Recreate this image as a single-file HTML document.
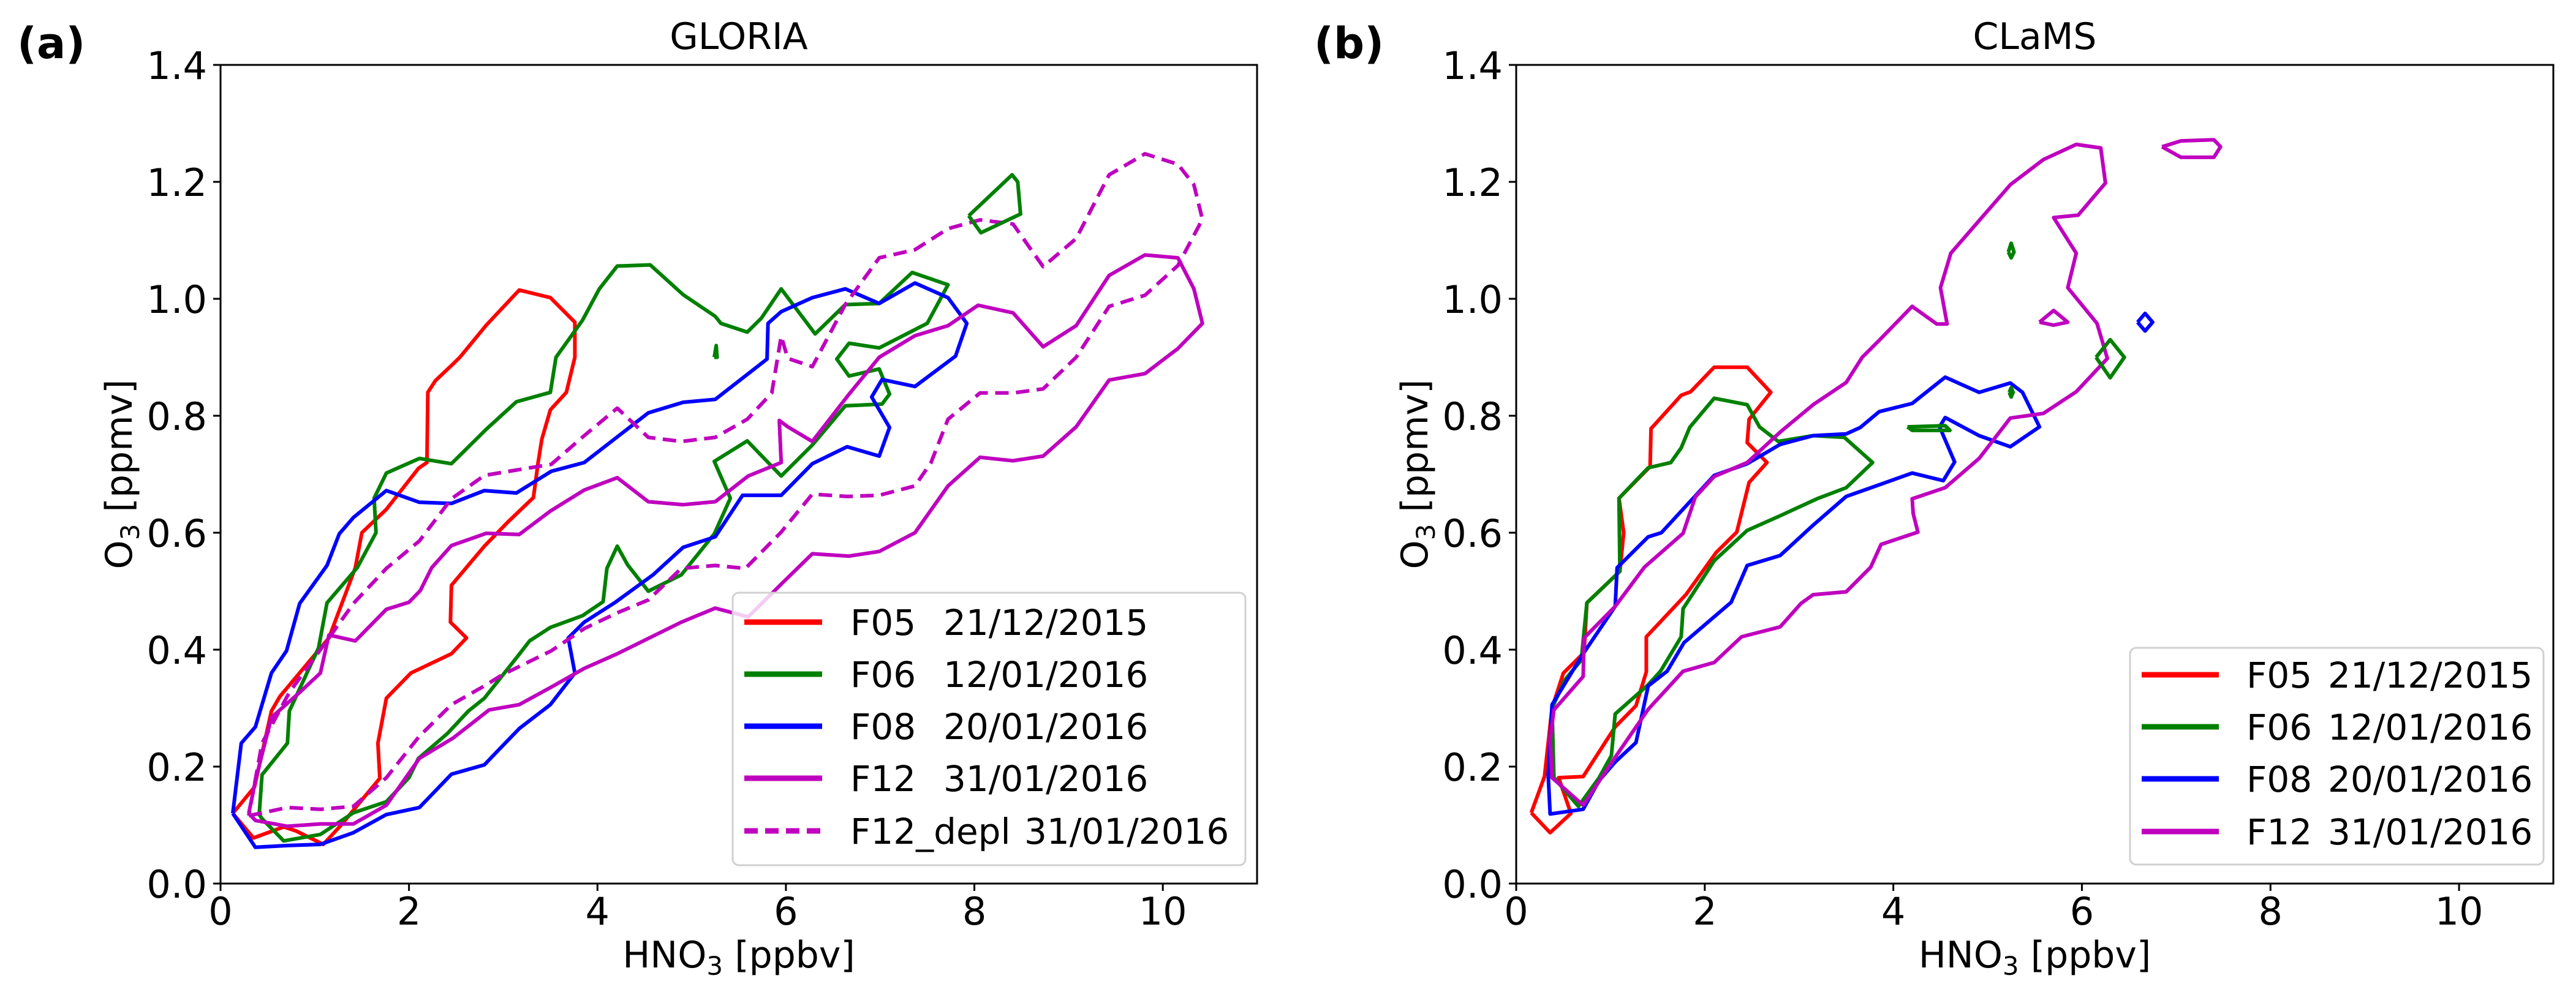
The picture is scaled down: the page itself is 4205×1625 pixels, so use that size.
<!DOCTYPE html>
<html><head><meta charset="utf-8"><style>
html,body{margin:0;padding:0;background:#fff;}
svg{display:block;font-family:"DejaVu Sans","Liberation Sans",sans-serif;}
</style></head><body>
<svg id="fig" width="4205" height="1625" viewBox="0 0 4205 1625" xmlns="http://www.w3.org/2000/svg"></svg>
<script>
// ---- data (HNO3 ppbv, O3 ppmv) ----
const xTicks=[0,2,4,6,8,10];
const yTicks=[0.0,0.2,0.4,0.6,0.8,1.0,1.2,1.4];
const yTickLabels=["0.0","0.2","0.4","0.6","0.8","1.0","1.2","1.4"];

const gF05=[[0.13,0.12],[0.36,0.165],[0.54,0.295],[0.63,0.32],[1.15,0.42],[1.43,0.54],[1.5,0.6],[1.76,0.64],[2.1,0.71],[2.19,0.72],[2.2,0.84],[2.28,0.86],[2.45,0.886],[2.54,0.9],[2.82,0.955],[3.17,1.015],[3.5,1.002],[3.76,0.96],[3.76,0.9],[3.67,0.84],[3.5,0.81],[3.41,0.76],[3.37,0.72],[3.32,0.66],[3.06,0.62],[2.8,0.577],[2.45,0.51],[2.44,0.447],[2.61,0.42],[2.45,0.393],[2.02,0.36],[1.76,0.317],[1.67,0.24],[1.69,0.18],[1.5,0.143],[1.28,0.1],[1.09,0.067],[0.8,0.09],[0.67,0.097],[0.35,0.078],[0.13,0.12]];
const gF06=[[0.41,0.118],[0.44,0.186],[0.71,0.24],[0.73,0.295],[1.04,0.403],[1.13,0.48],[1.45,0.54],[1.65,0.6],[1.63,0.659],[1.76,0.702],[2.11,0.727],[2.45,0.718],[2.82,0.777],[3.14,0.824],[3.5,0.84],[3.56,0.9],[3.84,0.963],[4.02,1.017],[4.21,1.056],[4.56,1.058],[4.91,1.007],[5.25,0.97],[5.31,0.958],[5.59,0.943],[5.74,0.967],[5.95,1.017],[6.31,0.94],[6.63,0.99],[6.99,0.992],[7.34,1.045],[7.72,1.024],[7.5,0.958],[6.99,0.916],[6.67,0.924],[6.54,0.897],[6.67,0.868],[6.99,0.88],[7.1,0.837],[7.02,0.82],[6.63,0.817],[6.28,0.75],[5.95,0.697],[5.59,0.757],[5.24,0.722],[5.41,0.659],[5.24,0.598],[4.89,0.528],[4.54,0.5],[4.32,0.545],[4.21,0.577],[4.1,0.539],[4.06,0.482],[3.84,0.458],[3.5,0.438],[3.28,0.415],[3.15,0.388],[2.8,0.317],[2.63,0.295],[2.41,0.257],[2.1,0.214],[2.0,0.181],[1.76,0.14],[1.41,0.121],[1.06,0.084],[0.67,0.073],[0.44,0.111],[0.41,0.118]];
const gF06b=[[7.94,1.142],[8.07,1.113],[8.49,1.145],[8.46,1.2],[8.4,1.212],[7.94,1.142]];
const gF06c=[[5.24,0.9],[5.26,0.92],[5.27,0.9],[5.24,0.9]];
const gF08=[[0.13,0.12],[0.22,0.24],[0.37,0.268],[0.54,0.36],[0.7,0.398],[0.84,0.479],[1.13,0.544],[1.26,0.598],[1.41,0.626],[1.76,0.672],[2.11,0.652],[2.45,0.65],[2.8,0.672],[3.14,0.668],[3.51,0.705],[3.86,0.72],[4.54,0.805],[4.91,0.823],[5.25,0.828],[5.8,0.897],[5.81,0.958],[5.95,0.978],[6.28,1.002],[6.63,1.017],[6.99,0.992],[7.37,1.027],[7.72,1.002],[7.92,0.958],[7.8,0.902],[7.37,0.85],[7.02,0.862],[6.91,0.832],[7.1,0.78],[6.99,0.731],[6.65,0.747],[6.28,0.718],[5.95,0.664],[5.54,0.664],[5.25,0.593],[4.91,0.575],[4.59,0.528],[4.19,0.481],[3.86,0.447],[3.69,0.42],[3.76,0.36],[3.5,0.306],[3.17,0.265],[2.99,0.235],[2.8,0.203],[2.45,0.187],[2.11,0.13],[1.76,0.118],[1.41,0.087],[1.06,0.067],[0.71,0.065],[0.37,0.062],[0.13,0.12]];
const gF12=[[0.3,0.12],[0.37,0.176],[0.54,0.284],[0.84,0.327],[1.06,0.36],[1.15,0.425],[1.43,0.415],[1.76,0.469],[2.0,0.481],[2.12,0.501],[2.24,0.54],[2.45,0.578],[2.82,0.599],[3.17,0.597],[3.5,0.637],[3.86,0.673],[4.21,0.694],[4.54,0.653],[4.91,0.648],[5.25,0.653],[5.6,0.697],[5.95,0.72],[5.93,0.792],[6.02,0.781],[6.28,0.756],[6.67,0.837],[6.99,0.9],[7.37,0.937],[7.72,0.954],[8.04,0.989],[8.41,0.976],[8.73,0.918],[9.08,0.954],[9.43,1.04],[9.81,1.075],[10.16,1.07],[10.33,1.017],[10.42,0.958],[10.16,0.915],[9.81,0.872],[9.43,0.861],[9.08,0.781],[8.73,0.731],[8.41,0.723],[8.06,0.729],[7.72,0.68],[7.37,0.6],[6.99,0.568],[6.67,0.56],[6.28,0.564],[5.95,0.512],[5.6,0.456],[5.25,0.471],[4.89,0.447],[4.21,0.393],[3.86,0.368],[3.51,0.336],[3.17,0.306],[2.85,0.297],[2.47,0.249],[2.11,0.214],[1.76,0.134],[1.41,0.102],[1.06,0.102],[0.71,0.098],[0.37,0.108],[0.3,0.12]];
const gF12d=[[0.3,0.116],[0.71,0.13],[1.06,0.127],[1.41,0.132],[1.76,0.181],[2.11,0.252],[2.45,0.306],[2.8,0.338],[2.99,0.357],[3.51,0.398],[3.86,0.436],[4.21,0.463],[4.54,0.485],[4.89,0.539],[5.25,0.544],[5.57,0.539],[5.95,0.601],[6.28,0.666],[6.65,0.662],[6.99,0.664],[7.37,0.68],[7.54,0.72],[7.72,0.794],[8.06,0.839],[8.41,0.839],[8.73,0.846],[9.08,0.9],[9.43,0.987],[9.81,1.006],[10.16,1.057],[10.42,1.136],[10.33,1.195],[10.16,1.23],[9.81,1.248],[9.43,1.212],[9.08,1.103],[8.73,1.055],[8.41,1.128],[8.06,1.135],[7.72,1.12],[7.37,1.084],[6.99,1.07],[6.63,0.99],[6.28,0.884],[6.02,0.898],[5.95,0.936],[5.85,0.839],[5.59,0.794],[5.25,0.763],[4.89,0.756],[4.54,0.763],[4.21,0.813],[3.86,0.766],[3.51,0.717],[3.17,0.708],[2.8,0.698],[2.45,0.658],[2.11,0.586],[1.76,0.539],[1.41,0.479],[1.15,0.42],[0.73,0.327],[0.44,0.24],[0.3,0.116]];

const cF05=[[0.16,0.121],[0.3,0.183],[0.38,0.3],[0.5,0.36],[0.72,0.395],[0.75,0.48],[1.1,0.534],[1.14,0.6],[1.09,0.659],[1.42,0.713],[1.43,0.778],[1.75,0.835],[1.85,0.841],[2.1,0.883],[2.45,0.883],[2.7,0.84],[2.47,0.794],[2.45,0.754],[2.66,0.72],[2.47,0.686],[2.34,0.601],[2.12,0.566],[1.8,0.494],[1.38,0.422],[1.38,0.362],[1.27,0.304],[1.05,0.268],[0.71,0.183],[0.45,0.181],[0.58,0.12],[0.36,0.087],[0.16,0.121]];
const cF06=[[0.38,0.3],[0.52,0.349],[0.69,0.382],[0.75,0.48],[1.1,0.534],[1.09,0.659],[1.4,0.711],[1.64,0.72],[1.75,0.745],[1.84,0.78],[2.1,0.83],[2.45,0.819],[2.58,0.781],[2.78,0.756],[3.15,0.766],[3.48,0.763],[3.78,0.72],[3.5,0.677],[3.19,0.658],[2.8,0.629],[2.45,0.604],[2.1,0.552],[1.77,0.47],[1.75,0.422],[1.53,0.363],[1.4,0.34],[1.05,0.29],[1.01,0.219],[0.88,0.181],[0.66,0.132],[0.4,0.181],[0.38,0.3]];
const cF06b=[[4.15,0.781],[4.55,0.783],[4.6,0.775],[4.2,0.775],[4.15,0.781]];
const cF06c=[[6.15,0.9],[6.3,0.93],[6.45,0.9],[6.3,0.865],[6.15,0.9]];
const cF06d=[[5.22,1.08],[5.25,1.095],[5.28,1.08],[5.25,1.07],[5.22,1.08]];
const cF06e=[[5.23,0.84],[5.25,0.848],[5.27,0.84],[5.25,0.832],[5.23,0.84]];
const cF08=[[0.34,0.184],[0.38,0.306],[0.71,0.393],[1.05,0.474],[1.07,0.54],[1.4,0.593],[1.54,0.6],[2.1,0.698],[2.45,0.718],[2.8,0.751],[3.15,0.766],[3.5,0.769],[3.65,0.78],[3.85,0.807],[4.2,0.821],[4.55,0.866],[4.91,0.84],[5.24,0.856],[5.37,0.84],[5.55,0.781],[5.24,0.747],[4.91,0.766],[4.55,0.797],[4.49,0.781],[4.65,0.721],[4.53,0.689],[4.2,0.702],[3.87,0.683],[3.5,0.662],[3.15,0.613],[2.8,0.561],[2.45,0.544],[2.28,0.481],[1.78,0.412],[1.6,0.363],[1.4,0.338],[1.27,0.241],[1.05,0.208],[0.88,0.176],[0.71,0.127],[0.36,0.119],[0.34,0.184]];
const cF08b=[[6.59,0.96],[6.67,0.975],[6.75,0.96],[6.67,0.945],[6.59,0.96]];
const cF12=[[0.36,0.246],[0.4,0.297],[0.71,0.354],[0.72,0.42],[1.05,0.474],[1.36,0.541],[1.77,0.599],[1.9,0.661],[2.1,0.696],[2.45,0.72],[2.8,0.772],[3.15,0.819],[3.5,0.857],[3.67,0.9],[3.85,0.929],[4.2,0.987],[4.46,0.957],[4.57,0.957],[4.5,1.019],[4.61,1.078],[4.96,1.143],[5.24,1.195],[5.59,1.238],[5.94,1.264],[6.2,1.258],[6.25,1.198],[5.96,1.143],[5.7,1.139],[5.94,1.078],[5.85,1.019],[6.16,0.958],[6.27,0.898],[5.94,0.841],[5.59,0.804],[5.24,0.796],[4.91,0.727],[4.55,0.677],[4.2,0.658],[4.21,0.633],[4.26,0.601],[3.87,0.58],[3.76,0.541],[3.5,0.499],[3.15,0.494],[3.02,0.479],[2.8,0.439],[2.39,0.422],[2.1,0.378],[1.77,0.363],[1.4,0.298],[1.05,0.216],[0.71,0.134],[0.38,0.181],[0.36,0.246]];
const cF12b=[[5.55,0.96],[5.7,0.98],[5.85,0.96],[5.7,0.955],[5.55,0.96]];
const cF12c=[[6.85,1.26],[7.05,1.27],[7.4,1.272],[7.47,1.26],[7.4,1.242],[7.05,1.242],[6.85,1.26]];

const leftLegend=[["F05","21/12/2015"],["F06","12/01/2016"],["F08","20/01/2016"],["F12","31/01/2016"],["F12_depl","31/01/2016"]];
const rightLegend=[["F05","21/12/2015"],["F06","12/01/2016"],["F08","20/01/2016"],["F12","31/01/2016"]];

const RED="#ff0000",GRN="#008000",BLU="#0000ff",MAG="#bf00bf";
const NS="http://www.w3.org/2000/svg";
const svg=document.getElementById("fig");
function mk(tag,attrs,parent){const e=document.createElementNS(NS,tag);for(const k in attrs)e.setAttribute(k,attrs[k]);(parent||svg).appendChild(e);return e;}

function panel(o){
  const g=mk("g",{});
  
  
  const X=v=>o.x0+v/11*(o.x1-o.x0), Y=v=>o.y1-v/1.4*(o.y1-o.y0);
  o.series.forEach(s=>{
    const p=mk("path",{d:s.pts.map((q,i)=>(i?"L":"M")+X(q[0]).toFixed(1)+","+Y(q[1]).toFixed(1)).join(""),fill:"none",stroke:s.c,"stroke-width":6,"stroke-linejoin":"round","stroke-dasharray":s.dash||"none"},g);
    
    
  });
  const fr=mk("rect",{x:o.x0,y:o.y0,width:o.x1-o.x0,height:o.y1-o.y0,fill:"none",stroke:"#000","stroke-width":3},g);
  
  
  xTicks.forEach(t=>{
    mk("line",{x1:X(t),x2:X(t),y1:o.y1,y2:o.y1+12,stroke:"#000","stroke-width":3},g);
    const tx=mk("text",{x:X(t),y:1510,"font-size":62,"text-anchor":"middle"},g);tx.textContent=t;
    
    
  });
  yTicks.forEach((t,i)=>{
    mk("line",{x1:o.x0-12,x2:o.x0,y1:Y(t),y2:Y(t),stroke:"#000","stroke-width":3},g);
    const tx=mk("text",{x:o.x0-22,y:Y(t)+23,"font-size":62,"text-anchor":"end"},g);tx.textContent=yTickLabels[i];
    
    
  });
  const ti=mk("text",{x:(o.x0+o.x1)/2,y:80,"font-size":60,"text-anchor":"middle"},g);ti.textContent=o.title;
  
  
  const pl=mk("text",{x:o.plx,y:95,"font-size":70,"font-weight":"bold"},g);pl.textContent=o.pl;
  
  
  const xl=mk("text",{x:(o.x0+o.x1)/2,y:1580,"font-size":60,"text-anchor":"middle"},g);
  xl.innerHTML='HNO<tspan font-size="42" dy="12">3</tspan><tspan dy="-12"> [ppbv]</tspan>';
  
  
  const yc=(o.y0+o.y1)/2;
  const yl=mk("text",{x:0,y:0,"font-size":60,"text-anchor":"middle",transform:`translate(${o.ylx},${yc}) rotate(-90)`},g);
  yl.innerHTML='O<tspan font-size="42" dy="12">3</tspan><tspan dy="-12"> [ppmv]</tspan>';
  
  
  const L=o.leg;
  const lb=mk("rect",{x:L.x,y:L.y,width:L.w,height:L.h,rx:10,fill:"#fff","fill-opacity":0.8,stroke:"#d0d0d0","stroke-width":3},g);
  
  
  o.legItems.forEach((it,i)=>{
    const cy=L.rows[i];
    const s=o.series[L.map[i]];
    const ln=mk("line",{x1:L.hx0,x2:L.hx1,y1:cy,y2:cy,stroke:s.c,"stroke-width":9,"stroke-dasharray":s.dash?"22,12":"none"},g);
    
    
    const t1=mk("text",{x:L.tx,y:cy+21,"font-size":58},g);t1.textContent=it[0];
    
    
    const t2=mk("text",{x:(i==4?L.dx2:L.dx),y:cy+21,"font-size":58},g);t2.textContent=it[1];
    
    
  });
}

panel({name:"gloria-panel",x0:360,x1:2052,y0:106,y1:1443,title:"GLORIA",pl:"(a)",plx:28,ylx:215,
  series:[{n:"f05-contour",c:RED,pts:gF05},{n:"f06-contour",c:GRN,pts:gF06},{n:"f08-contour",c:BLU,pts:gF08},{n:"f12-contour",c:MAG,pts:gF12},{n:"f12-depl-contour",c:MAG,pts:gF12d,dash:"22,12"},{n:"f06-contour-2",c:GRN,pts:gF06b},{n:"f06-contour-3",c:GRN,pts:gF06c}],
  legItems:leftLegend,
  leg:{x:1196,y:968,w:837,h:445,rows:[1016,1101,1186,1271,1357],map:[0,1,2,3,4],hx0:1215,hx1:1342,tx:1388,dx:1540,dx2:1672}});

panel({name:"clams-panel",x0:2475,x1:4168,y0:106,y1:1443,title:"CLaMS",pl:"(b)",plx:2145,ylx:2330,
  series:[{n:"f05-contour",c:RED,pts:cF05},{n:"f06-contour",c:GRN,pts:cF06},{n:"f08-contour",c:BLU,pts:cF08},{n:"f12-contour",c:MAG,pts:cF12},{n:"f06-contour-2",c:GRN,pts:cF06b},{n:"f06-contour-3",c:GRN,pts:cF06c},{n:"f06-contour-4",c:GRN,pts:cF06d},{n:"f06-contour-5",c:GRN,pts:cF06e},{n:"f08-contour-2",c:BLU,pts:cF08b},{n:"f12-contour-2",c:MAG,pts:cF12b},{n:"f12-contour-3",c:MAG,pts:cF12c}],
  legItems:rightLegend,
  leg:{x:3477,y:1058,w:675,h:354,rows:[1102,1187,1272,1358],map:[0,1,2,3],hx0:3496,hx1:3622,tx:3667,dx:3800,dx2:3800}});
</script>
</body></html>
